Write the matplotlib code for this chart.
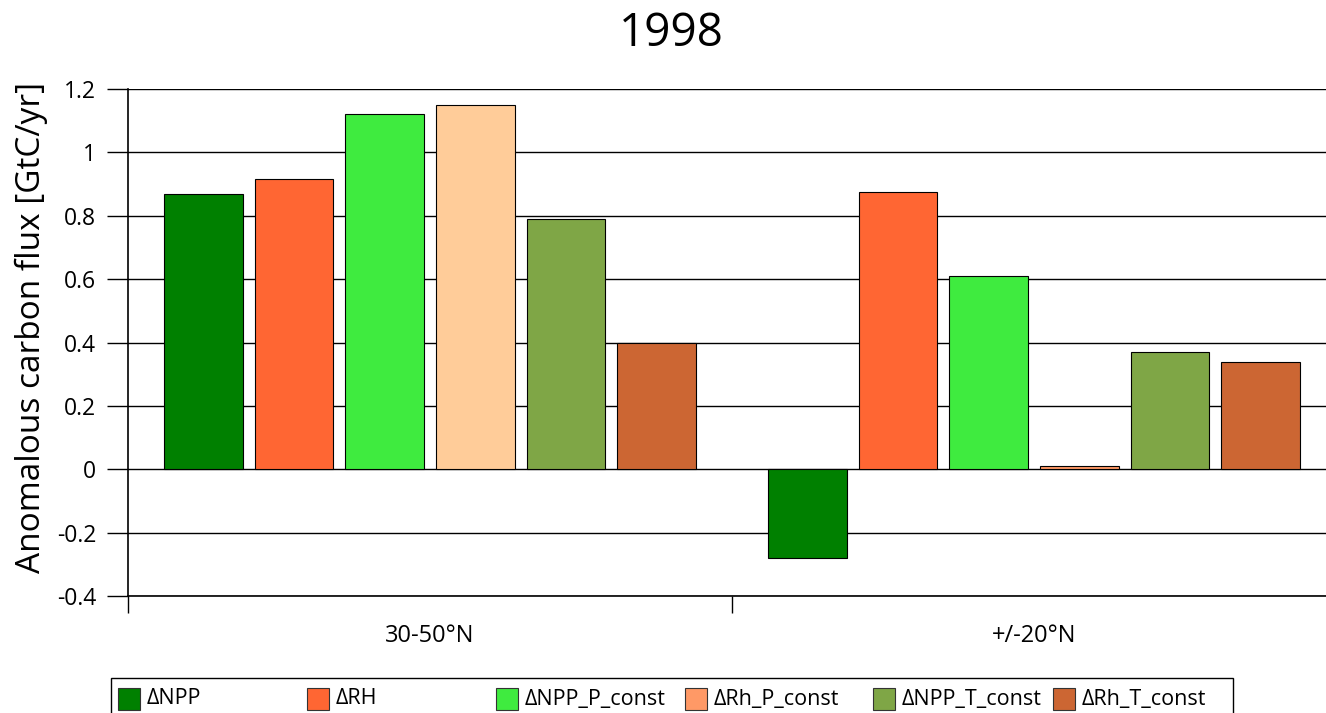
import numpy as np
import matplotlib
matplotlib.use("Agg")
import matplotlib.pyplot as plt
from matplotlib.patches import Rectangle

plt.rcParams['font.family'] = ['Open Sans', 'DejaVu Sans']

#Data
Regions = ["30-50°N", "+/-20°N"]
Series = ["ΔNPP", "ΔRH", "ΔNPP_P_const", "ΔRh_P_const", "ΔNPP_T_const", "ΔRh_T_const"]
Values_30_50N = [0.87, 0.915, 1.12, 1.15, 0.79, 0.40]
Values_20N = [-0.28, 0.875, 0.61, 0.01, 0.37, 0.34]
Colors = ["#008000", "#FF6633", "#3FEB3F", "#FF9966", "#7FA646", "#CC6633"]
# first ΔRh_P_const bar is drawn lighter in the original
Highlight_color = "#FFCC99"

#Figure
W, H = 1326, 713
fig = plt.figure(figsize=(W / 100, H / 100), dpi=100)
ax = fig.add_axes([128 / W, 1 - 596 / H, 1208 / W, 507 / H])

x = np.arange(len(Regions))
step = 0.15
width = 0.13
for i, name in enumerate(Series):
    vals = [Values_30_50N[i], Values_20N[i]]
    cols = [Colors[i], Colors[i]]
    if name == "ΔRh_P_const":
        cols[0] = Highlight_color
    ax.bar(x + (i - 2.5) * step, vals, width, color=cols,
           edgecolor="black", linewidth=0.8, zorder=3)

#Axes
ax.set_xlim(-0.5, 1.5)
ax.set_ylim(-0.4, 1.2)
ax.set_yticks(np.arange(-0.4, 1.21, 0.2))
ax.set_yticklabels(["-0.4", "-0.2", "0", "0.2", "0.4", "0.6", "0.8", "1", "1.2"])
ax.yaxis.grid(True, color="black", linewidth=1.0, zorder=0)
ax.tick_params(axis="y", length=15, width=1, pad=8, labelsize=16.5)

ax.set_xticks(x)
ax.set_xticklabels(Regions)
ax.set_xticks([-0.5, 0.5, 1.5], minor=True)
ax.tick_params(axis="x", which="major", length=0, pad=20, labelsize=17)
ax.tick_params(axis="x", which="minor", length=12, width=1)

for s in ["top", "right"]:
    ax.spines[s].set_visible(False)
ax.spines["left"].set_linewidth(1.2)
ax.spines["bottom"].set_linewidth(1.2)

ax.set_ylabel("Anomalous carbon flux [GtC/yr]", fontsize=24)
ax.yaxis.set_label_coords(-0.066, 0.53)

fig.text(671 / W, 1 - 34 / H, "1998", ha="center", va="center", fontsize=33)

#Legend (equal column spacing like the original)
leg_cols = [118, 307, 496, 685, 873, 1053]
fig.patches.append(Rectangle((111 / W, -0.02), 1122 / W, 0.02 + (713 - 678) / H,
                             transform=fig.transFigure, facecolor="white",
                             edgecolor="black", linewidth=1))
for i, name in enumerate(Series):
    px = leg_cols[i]
    fig.patches.append(Rectangle((px / W, 1 - 710 / H), 22 / W, 22 / H,
                                 transform=fig.transFigure, facecolor=Colors[i],
                                 edgecolor="#333333", linewidth=0.8))
    fig.text((px + 29) / W, 1 - 699 / H, name, ha="left", va="center", fontsize=15.5)

fig.savefig("out.png", dpi=100)
